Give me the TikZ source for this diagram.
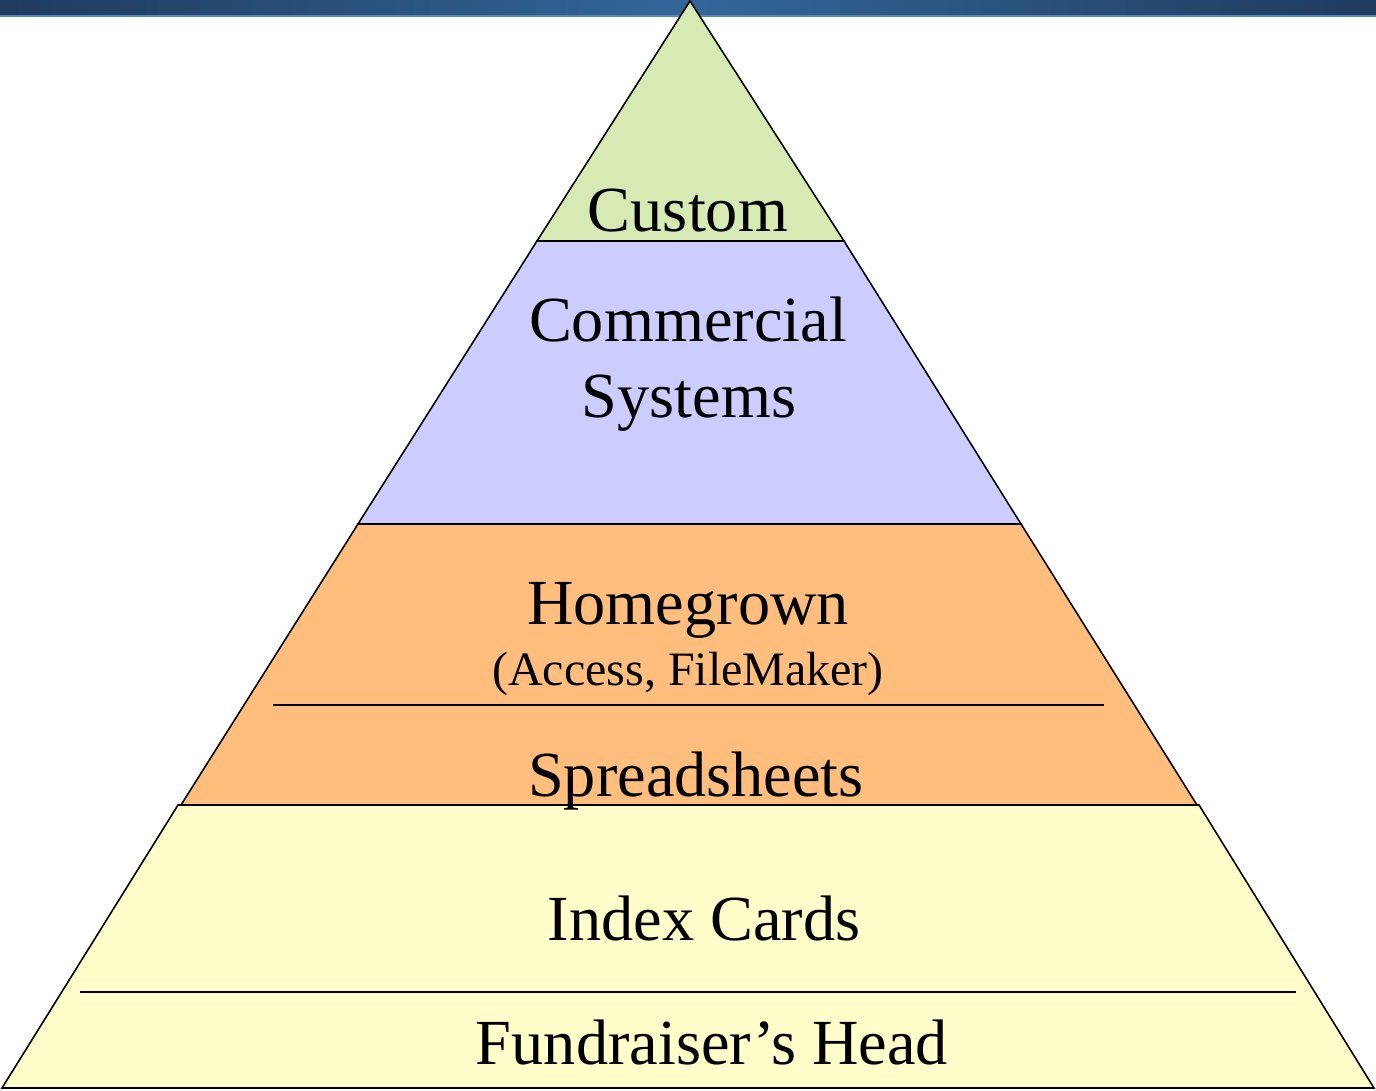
\documentclass[tikz,border=0pt]{standalone}
\usepackage{fontspec}
\setmainfont{Liberation Serif}
\definecolor{bardark}{HTML}{1F3B5E}
\definecolor{barmid}{HTML}{336699}
\definecolor{barline}{HTML}{5A87B8}
\definecolor{tiergreen}{HTML}{D7EAB3}
\definecolor{tierblue}{HTML}{CCCCFF}
\definecolor{tierorange}{HTML}{FFBE7E}
\definecolor{tieryellow}{HTML}{FFFDC9}
\begin{document}
\begin{tikzpicture}[x=0.02cm,y=-0.02cm,
  tier/.style={draw=black,line width=0.9pt,line join=miter},
  divider/.style={draw=black,line width=1.5pt},
  bigtxt/.style={anchor=base,inner sep=0pt,font=\fontsize{36.6}{40}\selectfont},
  smalltxt/.style={anchor=base,inner sep=0pt,font=\fontsize{27.3}{30}\selectfont}]
\useasboundingbox (0,0) rectangle (1376,1091);
\fill[white] (0,0) rectangle (1376,1091);
% header bar
\shade[left color=bardark,right color=bardark,middle color=barmid] (0,0) rectangle (1376,15.5);
\fill[barline] (0,15) rectangle (1376,17);
% pyramid tiers, top to bottom
\path[tier,fill=tieryellow] (178,805) -- (1199,805) -- (1374,1088) -- (2,1088) -- cycle;
\path[tier,fill=tierorange] (358,524) -- (1021,524) -- (1197,805) -- (181,805) -- cycle;
\path[tier,fill=tierblue] (537,241) -- (844,241) -- (1021,524) -- (358,524) -- cycle;
\path[tier,fill=tiergreen] (690,1) -- (844,241) -- (537,241) -- cycle;
% dividers inside tiers
\coordinate (oL) at (273,705);
\coordinate (oR) at (1104,705);
\draw[divider] (oL) -- (oR);
\coordinate (yL) at (80,992);
\coordinate (yR) at (1296,992);
\draw[divider] (yL) -- (yR);
% labels
\node[bigtxt] (custom) at (688,232) {Custom};
\node[bigtxt] (commercial) at (688,341) {Commercial};
\node[bigtxt] (systems) at (689,417) {Systems};
\node[bigtxt] (homegrown) at (688,624) {Homegrown};
\node[smalltxt] (access) at (688,685) {(Access, FileMaker)};
\node[bigtxt] (spread) at (696,796) {Spreadsheets};
\node[bigtxt] (index) at (704,940) {Index Cards};
\node[bigtxt] (head) at (712,1064) {Fundraiser’s Head};
\end{tikzpicture}
\end{document}
